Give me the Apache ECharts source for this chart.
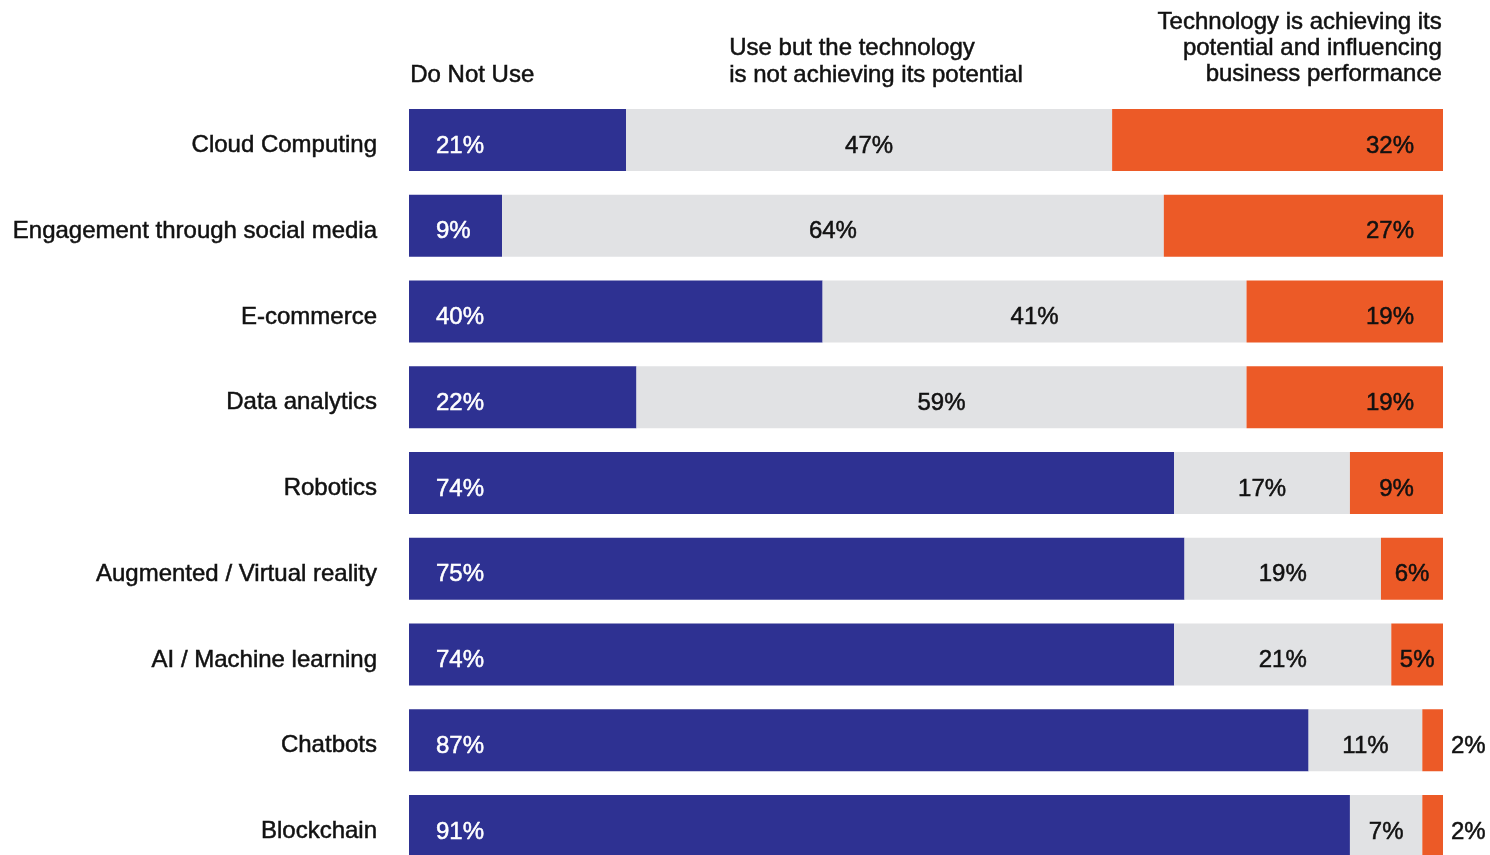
<!DOCTYPE html>
<html>
<head>
<meta charset="utf-8">
<script src="https://cdn.jsdelivr.net/npm/echarts@6/dist/echarts.min.js"></script>
<style>
html,body{margin:0;padding:0;background:#fff;}
#chart{width:1490px;height:855px;}
</style>
</head>
<body>
<div id="chart"></div>
<script>
const categories = ["Cloud Computing","Engagement through social media","E-commerce","Data analytics","Robotics","Augmented / Virtual reality","AI / Machine learning","Chatbots","Blockchain"];
const doNotUse = [21, 9, 40, 22, 74, 75, 74, 87, 91];
const notAchieving = [47, 64, 41, 59, 17, 19, 21, 11, 7];
const achieving = [32, 27, 19, 19, 9, 6, 5, 2, 2];
const headerDoNotUse = ["Do Not Use"];
const headerNotAchieving = ["Use but the technology", "is not achieving its potential"];
const headerAchieving = ["Technology is achieving its", "potential and influencing", "business performance"];

const FONT = "'Liberation Sans', Arial, Helvetica, sans-serif";
const TXT = '#111111';
const LABEL_SHIFT = [0, 6];
const HEAVY = { textBorderWidth: 0.5 };

function fmt(p){ return p.value + '%'; }

const chart = echarts.init(document.getElementById('chart'), null, {renderer:'canvas'});

function headerLines(lines, anchor, baseY, lineGap, alignRight) {
  return lines.map((t, i) => {
    const el = { type: 'text', top: baseY + i * lineGap,
      style: { text: t, font: '24px ' + FONT, fill: TXT, stroke: TXT, lineWidth: 0.5 } };
    if (alignRight) el.right = anchor; else el.left = anchor;
    return el;
  });
}

const option = {
  backgroundColor: '#ffffff',
  animation: false,
  grid: { left: 409, right: 47, top: 97, height: 772, containLabel: false, outerBoundsMode: 'none' },
  xAxis: { type: 'value', min: 0, max: 100, show: false },
  yAxis: {
    type: 'category', inverse: true, data: categories,
    axisLine: {show:false}, axisTick: {show:false}, splitLine: {show:false},
    axisLabel: { fontSize: 24, fontFamily: FONT, color: TXT, margin: 32,
      verticalAlign: 'top', lineHeight: 11, textBorderColor: TXT, textBorderWidth: 0.5 }
  },
  textStyle: { fontFamily: FONT },
  series: [
    {
      name: 'Do Not Use', type: 'bar', stack: 'total', barWidth: 62,
      itemStyle: { color: '#2E3192' },
      label: Object.assign({ show: true, position: 'insideLeft', distance: 27, offset: LABEL_SHIFT, color: '#ffffff', textBorderColor: '#ffffff', fontSize: 24, fontFamily: FONT, formatter: fmt }, HEAVY),
      data: doNotUse
    },
    {
      name: 'Use but not achieving', type: 'bar', stack: 'total', barWidth: 62,
      itemStyle: { color: '#E1E2E4' },
      label: Object.assign({ show: true, position: 'inside', offset: LABEL_SHIFT, color: TXT, textBorderColor: TXT, fontSize: 24, fontFamily: FONT, formatter: fmt }, HEAVY),
      data: notAchieving
    },
    {
      name: 'Achieving', type: 'bar', stack: 'total', barWidth: 62,
      itemStyle: { color: '#EC5A27' },
      label: Object.assign({ show: true, position: 'insideRight', distance: 29, offset: LABEL_SHIFT, color: TXT, textBorderColor: TXT, fontSize: 24, fontFamily: FONT, formatter: fmt }, HEAVY),
      data: achieving.map(v => {
        if (v <= 2) return { value: v, label: { position: 'right', distance: 8 } };
        if (v < 10) return { value: v, label: { position: 'inside' } };
        return v;
      })
    }
  ],
  graphic: [].concat(
    headerLines(headerDoNotUse, 410, 63, 26.7, false),
    headerLines(headerNotAchieving, 729, 36, 26.7, false),
    headerLines(headerAchieving, 48, 10, 26.3, true)
  )
};
chart.setOption(option);
</script>
</body>
</html>
